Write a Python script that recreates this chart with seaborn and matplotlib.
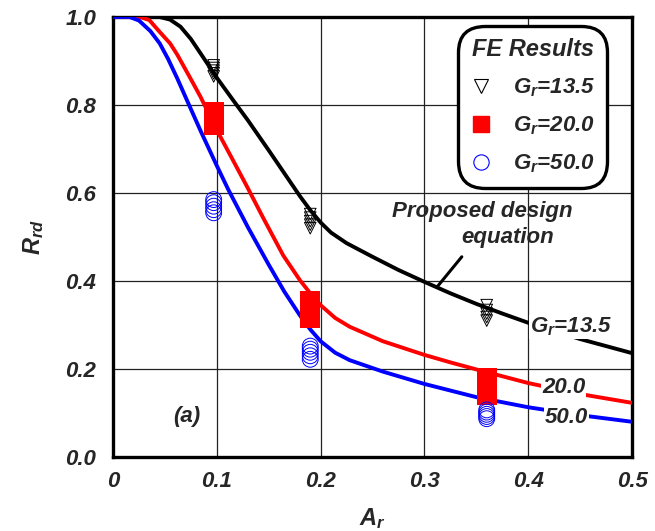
import numpy as np
import pandas as pd
import matplotlib
matplotlib.use('Agg')
import matplotlib.pyplot as plt
from matplotlib.lines import Line2D
from matplotlib.ticker import MultipleLocator
import seaborn as sns

# design equation curves
ar_13 = [0.0, 0.045, 0.055, 0.065, 0.075, 0.085, 0.1, 0.116, 0.13, 0.15, 0.165, 0.18,
         0.19, 0.2, 0.21, 0.225, 0.25, 0.275, 0.3, 0.325, 0.35, 0.375, 0.4, 0.45, 0.5]
rrd_13 = [1.0, 1.0, 0.994, 0.978, 0.95, 0.915, 0.862, 0.81, 0.765, 0.697, 0.645, 0.593,
          0.561, 0.533, 0.51, 0.486, 0.455, 0.425, 0.398, 0.372, 0.348, 0.326, 0.305,
          0.268, 0.236]
ar_20 = [0.0, 0.026, 0.035, 0.045, 0.055, 0.062, 0.074, 0.084, 0.1, 0.115, 0.129, 0.145,
         0.164, 0.18, 0.19, 0.2, 0.214, 0.228, 0.26, 0.3, 0.325, 0.35, 0.4, 0.45, 0.5]
rrd_20 = [1.0, 1.0, 0.993, 0.966, 0.94, 0.914, 0.863, 0.82, 0.743, 0.677, 0.615, 0.542,
          0.458, 0.402, 0.372, 0.345, 0.316, 0.296, 0.263, 0.232, 0.215, 0.199, 0.168,
          0.143, 0.123]
ar_50 = [0.0, 0.016, 0.025, 0.036, 0.045, 0.053, 0.062, 0.071, 0.085, 0.1, 0.111, 0.13,
         0.15, 0.165, 0.18, 0.19, 0.2, 0.214, 0.228, 0.26, 0.3, 0.35, 0.4, 0.45, 0.5]
rrd_50 = [1.0, 1.0, 0.992, 0.968, 0.94, 0.905, 0.86, 0.812, 0.738, 0.662, 0.608, 0.522,
          0.437, 0.376, 0.322, 0.29, 0.263, 0.237, 0.22, 0.194, 0.166, 0.136, 0.113,
          0.095, 0.08]

# FE results
fe_x = [0.097] * 5 + [0.19] * 5 + [0.36] * 5
fe_13 = [0.865, 0.872, 0.878, 0.884, 0.89,
         0.52, 0.528, 0.536, 0.544, 0.552,
         0.31, 0.318, 0.326, 0.334, 0.345]
fe_20 = [0.755, 0.762, 0.77, 0.777, 0.785,
         0.315, 0.325, 0.335, 0.345, 0.355,
         0.14, 0.15, 0.16, 0.17, 0.18]
fe_50 = [0.555, 0.562, 0.57, 0.578, 0.585,
         0.222, 0.23, 0.238, 0.245, 0.252,
         0.087, 0.092, 0.097, 0.102, 0.107]

sns.set_style('white')
plt.rcParams['font.family'] = ['Liberation Sans', 'DejaVu Sans']
plt.rcParams['mathtext.fontset'] = 'custom'
plt.rcParams['mathtext.it'] = 'Liberation Sans:italic:bold'
plt.rcParams['mathtext.rm'] = 'Liberation Sans:italic:bold'
plt.rcParams['mathtext.bf'] = 'Liberation Sans:italic:bold'

fig = plt.figure(figsize=(6.55, 5.31), dpi=100)
ax = fig.add_axes([0.1725, 0.1394, 0.7925, 0.8286])

ax.grid(True, which='major', color='#222222', linewidth=0.9, zorder=0)
ax.set_axisbelow(True)

sns.lineplot(x=ar_13, y=rrd_13, color='black', linewidth=2.8, ax=ax, zorder=3)
sns.lineplot(x=ar_20, y=rrd_20, color='red', linewidth=2.8, ax=ax, zorder=3)
sns.lineplot(x=ar_50, y=rrd_50, color='blue', linewidth=2.8, ax=ax, zorder=3)

fe = pd.DataFrame({'Ar': fe_x, 'g13': fe_13, 'g20': fe_20, 'g50': fe_50})
sns.scatterplot(data=fe, x='Ar', y='g13', marker='v', s=70, facecolors='none',
                edgecolor='black', linewidth=0.7, ax=ax, zorder=4)
sns.scatterplot(data=fe, x='Ar', y='g20', marker='s', s=200, color='red',
                edgecolor='red', linewidth=0, ax=ax, zorder=4)
sns.scatterplot(data=fe, x='Ar', y='g50', marker='o', s=130, facecolors='none',
                edgecolor='blue', linewidth=0.7, ax=ax, zorder=4)

ax.set_xlim(0, 0.5)
ax.set_ylim(0, 1.0)
ax.set_xticks([0, 0.1, 0.2, 0.3, 0.4, 0.5])
ax.set_xticklabels(['0', '0.1', '0.2', '0.3', '0.4', '0.5'])
ax.set_yticks([0, 0.2, 0.4, 0.6, 0.8, 1.0])
ax.set_yticklabels(['0.0', '0.2', '0.4', '0.6', '0.8', '1.0'])
ax.xaxis.set_minor_locator(MultipleLocator(0.05))
ax.yaxis.set_minor_locator(MultipleLocator(0.1))
ax.tick_params(which='major', direction='in', length=8, width=2.2,
               labelsize=16, top=False, right=False)
ax.tick_params(axis='y', which='major', pad=12)
ax.tick_params(axis='x', which='major', pad=10)
ax.tick_params(which='minor', direction='in', length=5, width=2.2,
               top=False, right=False)
for lab in ax.get_xticklabels() + ax.get_yticklabels():
    lab.set_fontweight('bold')
    lab.set_fontstyle('italic')
for sp in ax.spines.values():
    sp.set_linewidth(2.4)
    sp.set_color('black')

ax.set_xlabel(r'$A_r$', fontsize=17, labelpad=10)
ax.set_ylabel(r'$R_{rd}$', fontsize=17, labelpad=14)

# legend
handles = [
    Line2D([], [], marker='v', linestyle='none', markerfacecolor='none',
           markeredgecolor='black', markersize=10, markeredgewidth=0.8),
    Line2D([], [], marker='s', linestyle='none', color='red', markersize=12),
    Line2D([], [], marker='o', linestyle='none', markerfacecolor='none',
           markeredgecolor='blue', markersize=11, markeredgewidth=0.8),
]
labels = [r'$G_r$=13.5', r'$G_r$=20.0', r'$G_r$=50.0']
leg = ax.legend(handles, labels, title='FE Results', loc='upper right',
                bbox_to_anchor=(0.948, 0.975), frameon=True, fancybox=True,
                prop={'size': 16, 'weight': 'bold', 'style': 'italic'},
                title_fontproperties={'size': 17, 'weight': 'bold', 'style': 'italic'},
                handletextpad=0.9, labelspacing=0.7, borderpad=0.25,
                handlelength=1.0, borderaxespad=0.2)
leg.get_frame().set_edgecolor('black')
leg.get_frame().set_linewidth(2.4)
leg.get_frame().set_facecolor('white')
leg.get_frame().set_alpha(1)
leg.get_frame().set_boxstyle('round', pad=0.3, rounding_size=1.2)
leg.set_zorder(10)

# annotations
txt_kw = dict(fontsize=16, fontweight='bold', fontstyle='italic', zorder=6)
ax.text(0.3555, 0.557, 'Proposed design', ha='center', va='center', **txt_kw)
ax.text(0.3805, 0.498, 'equation', ha='center', va='center', **txt_kw)
ax.plot([0.312, 0.336], [0.386, 0.455], color='black', linewidth=2.2, zorder=5)
bbox_w = dict(facecolor='white', edgecolor='none', pad=0.5)
ax.text(0.441, 0.296, r'$G_r$=13.5', ha='center', va='center',
        bbox=bbox_w, **txt_kw)
ax.text(0.434, 0.157, '20.0', ha='center', va='center', bbox=bbox_w, **txt_kw)
ax.text(0.437, 0.089, '50.0', ha='center', va='center', bbox=bbox_w, **txt_kw)
ax.text(0.071, 0.093, '(a)', ha='center', va='center', **txt_kw)

fig.savefig('out.png', dpi=100)
